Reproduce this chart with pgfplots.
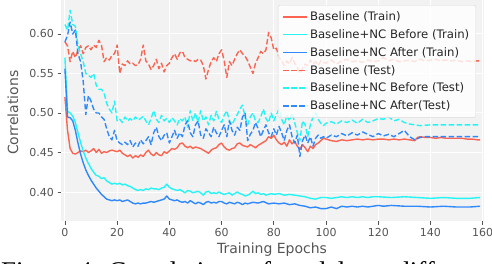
\documentclass[border=0pt]{standalone}
\usepackage{pgfplots}
\pgfplotsset{compat=1.18}
\usepackage{fontspec}
\setmainfont{DejaVu Sans}
\newfontfamily\capfont{Liberation Serif}
\definecolor{bgc}{RGB}{242,242,242}
\definecolor{tkc}{RGB}{85,85,85}
\definecolor{cred}{RGB}{252,88,68}
\definecolor{ccyan}{RGB}{20,245,245}
\definecolor{cblue}{RGB}{32,128,255}
\begin{document}
\begin{tikzpicture}
\useasboundingbox (0pt,0pt) rectangle (492pt,263pt);
\begin{axis}[
  at={(61pt,42pt)}, anchor=south west,
  scale only axis, width=423pt, height=221pt,
  xmin=-1.5, xmax=160.5, ymin=0.3633, ymax=0.643,
  axis background/.style={fill=bgc},
  axis line style={draw=none},
  grid=major, major grid style={white, line width=1pt},
  tick align=outside, xtick pos=bottom, ytick pos=left,
  major tick length=3.5pt,
  every tick/.style={tkc, line width=0.8pt},
  xtick={0,20,...,160},
  ytick={0.40,0.45,0.50,0.55,0.60},
  yticklabel style={/pgf/number format/.cd, fixed, fixed zerofill, precision=2},
  /pgf/number format/assume math mode=true,
  tick label style={font=\fontsize{11}{13}\selectfont, text=tkc},
  xlabel={Training Epochs}, ylabel={Correlations},
  every axis x label/.style={at={(axis description cs:0.499,-0.131)}, anchor=center, font=\fontsize{14}{16}\selectfont, text=tkc},
  every axis y label/.style={at={(axis description cs:-0.1135,0.49)}, rotate=90, anchor=center, font=\fontsize{14}{16}\selectfont, text=tkc},
  legend style={at={(rel axis cs:0.981,0.977)}, anchor=north east,
    fill=white, fill opacity=0.8, text opacity=1, draw=black!15, rounded corners=2pt,
    font=\fontsize{11.7}{14}\selectfont, text=black!85, row sep=3.4pt, inner sep=4.5pt},
  legend cell align=left,
  legend image code/.code={\draw[#1, line width=1.4pt] (0pt,0pt) -- (24pt,0pt);},
  every axis plot/.append style={line width=1.4pt, line join=round, opacity=0.92},
  clip=true,
]
% Baseline (Train)
\addplot[cred] coordinates {
(0,0.520)(1,0.478)(2,0.455)(3,0.449)(4,0.448)(5,0.450)(6,0.452)(7,0.451)(8,0.453)(9,0.450)
(10,0.452)(11,0.455)(12,0.450)(13,0.454)(14,0.449)(15,0.451)(16,0.450)(17,0.452)(18,0.453)(19,0.452)
(20,0.451)(21,0.453)(22,0.449)(23,0.447)(24,0.445)(25,0.447)(26,0.443)(27,0.446)(28,0.444)(29,0.447)
(30,0.445)(31,0.450)(32,0.453)(33,0.448)(34,0.446)(35,0.450)(36,0.447)(37,0.446)(38,0.451)(39,0.449)
(40,0.452)(41,0.455)(42,0.454)(43,0.456)(44,0.461)(45,0.462)(46,0.458)(47,0.456)(48,0.458)(49,0.455)
(50,0.457)(51,0.456)(52,0.455)(53,0.453)(54,0.451)(55,0.449)(56,0.453)(57,0.455)(58,0.456)(59,0.460)
(60,0.462)(61,0.457)(62,0.454)(63,0.453)(64,0.455)(65,0.456)(66,0.461)(67,0.462)(68,0.459)(69,0.458)
(70,0.457)(71,0.460)(72,0.458)(73,0.456)(74,0.459)(75,0.461)(76,0.463)(77,0.465)(78,0.470)(79,0.468)
(80,0.472)(81,0.466)(82,0.462)(83,0.460)(84,0.463)(85,0.458)(86,0.466)(87,0.461)(88,0.464)(89,0.458)
(90,0.454)(91,0.460)(92,0.456)(93,0.451)(94,0.458)(95,0.455)(96,0.460)(97,0.462)(98,0.465)(99,0.468)
(100,0.467)(102,0.465)(104,0.464)(106,0.466)(108,0.465)(110,0.466)(112,0.467)(114,0.466)(116,0.467)(118,0.466)
(120,0.467)(122,0.467)(124,0.466)(126,0.467)(128,0.466)(130,0.467)(132,0.466)(134,0.465)(135,0.469)(136,0.470)
(138,0.469)(140,0.469)(142,0.468)(144,0.469)(146,0.468)(148,0.468)(150,0.468)(152,0.468)(154,0.467)(156,0.467)
(158,0.466)(159,0.466)
};
\addlegendentry{Baseline (Train)}
% Baseline+NC Before (Train)
\addplot[ccyan] coordinates {
(0,0.570)(1,0.502)(2,0.500)(3,0.496)(4,0.488)(5,0.475)(6,0.463)(7,0.452)(8,0.443)(9,0.436)
(10,0.430)(11,0.425)(12,0.421)(13,0.420)(14,0.417)(15,0.418)(16,0.414)(17,0.412)(18,0.410)(19,0.411)
(20,0.410)(21,0.411)(22,0.409)(23,0.410)(24,0.408)(25,0.407)(26,0.405)(27,0.403)(28,0.402)(29,0.403)
(30,0.402)(31,0.404)(32,0.403)(33,0.405)(34,0.404)(35,0.404)(36,0.403)(37,0.405)(38,0.406)(39,0.410)
(40,0.406)(41,0.404)(42,0.403)(43,0.402)(44,0.403)(45,0.401)(46,0.399)(47,0.402)(48,0.401)(49,0.399)
(50,0.400)(51,0.401)(52,0.399)(53,0.396)(54,0.400)(55,0.401)(56,0.398)(57,0.399)(58,0.398)(59,0.400)
(60,0.398)(61,0.397)(62,0.398)(63,0.399)(64,0.396)(65,0.398)(66,0.400)(67,0.398)(68,0.397)(69,0.395)
(70,0.396)(71,0.398)(72,0.401)(73,0.398)(74,0.399)(75,0.397)(76,0.398)(77,0.396)(78,0.397)(79,0.398)
(80,0.397)(82,0.398)(84,0.396)(86,0.397)(88,0.396)(90,0.395)(92,0.394)(94,0.392)(96,0.391)(98,0.393)
(100,0.393)(102,0.392)(104,0.393)(106,0.394)(108,0.393)(110,0.394)(112,0.393)(114,0.394)(116,0.393)(118,0.394)
(120,0.394)(125,0.393)(130,0.394)(135,0.393)(140,0.392)(145,0.393)(150,0.392)(155,0.392)(159,0.393)
};
\addlegendentry{Baseline+NC Before (Train)}
% Baseline+NC After (Train)
\addplot[cblue] coordinates {
(0,0.556)(1,0.495)(2,0.494)(3,0.490)(4,0.478)(5,0.462)(6,0.448)(7,0.437)(8,0.428)(9,0.421)
(10,0.415)(11,0.410)(12,0.405)(13,0.401)(14,0.397)(15,0.394)(16,0.391)(17,0.390)(18,0.389)(19,0.390)
(20,0.389)(21,0.390)(22,0.388)(23,0.389)(24,0.390)(25,0.388)(26,0.386)(27,0.385)(28,0.386)(29,0.385)
(30,0.386)(31,0.386)(32,0.387)(33,0.388)(34,0.387)(35,0.388)(36,0.389)(37,0.390)(38,0.391)(39,0.395)
(40,0.391)(41,0.390)(42,0.389)(43,0.390)(44,0.388)(45,0.387)(46,0.388)(47,0.386)(48,0.389)(49,0.387)
(50,0.385)(51,0.387)(52,0.386)(53,0.384)(54,0.387)(55,0.388)(56,0.386)(57,0.387)(58,0.386)(59,0.388)
(60,0.388)(61,0.386)(62,0.385)(63,0.387)(64,0.386)(65,0.385)(66,0.387)(67,0.386)(68,0.384)(69,0.386)
(70,0.385)(72,0.387)(74,0.386)(76,0.388)(78,0.385)(80,0.386)(82,0.385)(84,0.386)(86,0.384)(88,0.385)
(90,0.383)(92,0.382)(94,0.380)(96,0.381)(98,0.379)(100,0.379)(102,0.381)(104,0.379)(106,0.382)(108,0.381)
(110,0.382)(112,0.381)(114,0.382)(116,0.381)(118,0.382)(120,0.383)(122,0.382)(125,0.383)(130,0.382)(135,0.382)
(140,0.381)(145,0.382)(150,0.381)(155,0.381)(159,0.382)
};
\addlegendentry{Baseline+NC After (Train)}
% Baseline (Test)
\addplot[cred, dash pattern=on 5.5pt off 2.5pt] coordinates {
(0,0.590)(1,0.585)(2,0.565)(3,0.578)(4,0.570)(5,0.580)(6,0.585)(7,0.575)(8,0.583)(9,0.585)
(10,0.580)(11,0.586)(12,0.583)(13,0.592)(14,0.586)(15,0.565)(16,0.570)(17,0.567)(18,0.573)(19,0.575)
(20,0.586)(21,0.550)(22,0.562)(23,0.560)(24,0.566)(25,0.562)(26,0.563)(27,0.560)(28,0.561)(29,0.568)
(30,0.586)(31,0.566)(32,0.562)(33,0.555)(34,0.560)(35,0.568)(36,0.556)(37,0.563)(38,0.552)(39,0.560)
(40,0.563)(41,0.570)(42,0.575)(43,0.568)(44,0.576)(45,0.578)(46,0.570)(47,0.568)(48,0.566)(49,0.567)
(50,0.565)(51,0.568)(52,0.567)(53,0.560)(54,0.543)(55,0.555)(56,0.565)(57,0.570)(58,0.565)(59,0.575)
(60,0.580)(61,0.566)(62,0.545)(63,0.565)(64,0.560)(65,0.568)(66,0.575)(67,0.580)(68,0.575)(69,0.572)
(70,0.566)(71,0.558)(72,0.550)(73,0.563)(74,0.570)(75,0.578)(76,0.575)(77,0.580)(78,0.602)(79,0.595)
(80,0.580)(81,0.582)(82,0.570)(83,0.566)(84,0.560)(85,0.566)(86,0.562)(87,0.570)(88,0.563)(89,0.558)
(90,0.550)(91,0.556)(92,0.562)(93,0.560)(94,0.567)(95,0.562)(96,0.565)(97,0.560)(98,0.566)(100,0.563)
(102,0.567)(104,0.562)(106,0.566)(108,0.568)(110,0.565)(112,0.566)(114,0.564)(116,0.567)(118,0.565)(120,0.566)
(122,0.570)(124,0.566)(126,0.568)(128,0.565)(130,0.566)(132,0.567)(134,0.565)(136,0.568)(138,0.566)(140,0.567)
(142,0.568)(144,0.566)(146,0.567)(148,0.566)(150,0.567)(152,0.565)(154,0.566)(156,0.565)(158,0.566)(159,0.566)
};
\addlegendentry{Baseline (Test)}
% Baseline+NC Before (Test)
\addplot[ccyan, dash pattern=on 5.5pt off 2.5pt] coordinates {
(0,0.612)(1,0.605)(2,0.630)(3,0.612)(4,0.610)(5,0.585)(6,0.575)(7,0.565)(8,0.550)(9,0.548)
(10,0.545)(11,0.550)(12,0.535)(13,0.530)(14,0.530)(15,0.525)(16,0.512)(17,0.505)(18,0.500)(19,0.515)
(20,0.490)(21,0.492)(22,0.488)(23,0.495)(24,0.490)(25,0.493)(26,0.490)(27,0.495)(28,0.491)(29,0.493)
(30,0.496)(31,0.490)(32,0.485)(33,0.493)(34,0.503)(35,0.492)(36,0.488)(37,0.497)(38,0.490)(39,0.493)
(40,0.488)(41,0.494)(42,0.490)(43,0.485)(44,0.493)(45,0.490)(46,0.495)(47,0.482)(48,0.503)(49,0.490)
(50,0.500)(51,0.488)(52,0.503)(53,0.490)(54,0.495)(55,0.485)(56,0.497)(57,0.490)(58,0.502)(59,0.492)
(60,0.488)(61,0.497)(62,0.503)(63,0.490)(64,0.485)(65,0.492)(66,0.498)(67,0.505)(68,0.510)(69,0.495)
(70,0.485)(71,0.495)(72,0.500)(73,0.490)(74,0.488)(75,0.495)(76,0.505)(77,0.493)(78,0.488)(79,0.500)
(80,0.490)(81,0.498)(82,0.505)(83,0.492)(84,0.485)(85,0.497)(86,0.490)(87,0.500)(88,0.488)(89,0.475)
(90,0.465)(91,0.490)(92,0.485)(93,0.470)(94,0.485)(95,0.495)(96,0.500)(97,0.492)(98,0.487)(99,0.484)
(100,0.487)(102,0.489)(104,0.486)(106,0.490)(108,0.488)(110,0.491)(112,0.487)(114,0.492)(116,0.488)(118,0.490)
(120,0.493)(122,0.492)(124,0.495)(126,0.490)(128,0.492)(130,0.488)(132,0.486)(134,0.485)(136,0.484)(140,0.485)
(145,0.485)(150,0.485)(155,0.485)(159,0.485)
};
\addlegendentry{Baseline+NC Before (Test)}
% Baseline+NC After (Test)
\addplot[cblue, dash pattern=on 5.5pt off 2.5pt] coordinates {
(0,0.590)(1,0.598)(2,0.615)(3,0.600)(4,0.605)(5,0.575)(6,0.565)(7,0.540)(8,0.498)(9,0.522)
(10,0.515)(11,0.505)(12,0.500)(13,0.500)(14,0.495)(15,0.492)(16,0.480)(17,0.470)(18,0.466)(19,0.478)
(20,0.465)(21,0.462)(22,0.460)(23,0.463)(24,0.460)(25,0.465)(26,0.457)(27,0.462)(28,0.458)(29,0.466)
(30,0.461)(31,0.465)(32,0.470)(33,0.460)(34,0.475)(35,0.482)(36,0.470)(37,0.465)(38,0.472)(39,0.475)
(40,0.462)(41,0.470)(42,0.478)(43,0.468)(44,0.475)(45,0.470)(46,0.485)(47,0.490)(48,0.475)(49,0.470)
(50,0.485)(51,0.490)(52,0.472)(53,0.468)(54,0.480)(55,0.475)(56,0.470)(57,0.482)(58,0.475)(59,0.470)
(60,0.478)(61,0.485)(62,0.470)(63,0.490)(64,0.478)(65,0.472)(66,0.482)(67,0.478)(68,0.495)(69,0.500)
(70,0.465)(71,0.473)(72,0.478)(73,0.488)(74,0.480)(75,0.470)(76,0.478)(77,0.485)(78,0.475)(79,0.470)
(80,0.480)(81,0.472)(82,0.483)(83,0.475)(84,0.465)(85,0.478)(86,0.485)(87,0.470)(88,0.462)(89,0.472)
(90,0.445)(91,0.465)(92,0.472)(93,0.462)(94,0.470)(95,0.458)(96,0.468)(97,0.472)(98,0.468)(99,0.470)
(100,0.468)(102,0.472)(104,0.470)(106,0.474)(108,0.471)(110,0.475)(112,0.472)(114,0.476)(116,0.473)(118,0.470)
(120,0.474)(122,0.471)(124,0.473)(126,0.470)(128,0.474)(130,0.478)(132,0.470)(134,0.466)(136,0.469)(138,0.470)
(140,0.470)(145,0.470)(150,0.470)(155,0.470)(159,0.470)
};
\addlegendentry{Baseline+NC After(Test)}
\end{axis}
\node[anchor=base west, inner sep=0pt, font=\capfont\fontsize{27}{30}\selectfont] at (1pt,-17.5pt) {Figure 4: Correlations of models on different};
\end{tikzpicture}
\end{document}
